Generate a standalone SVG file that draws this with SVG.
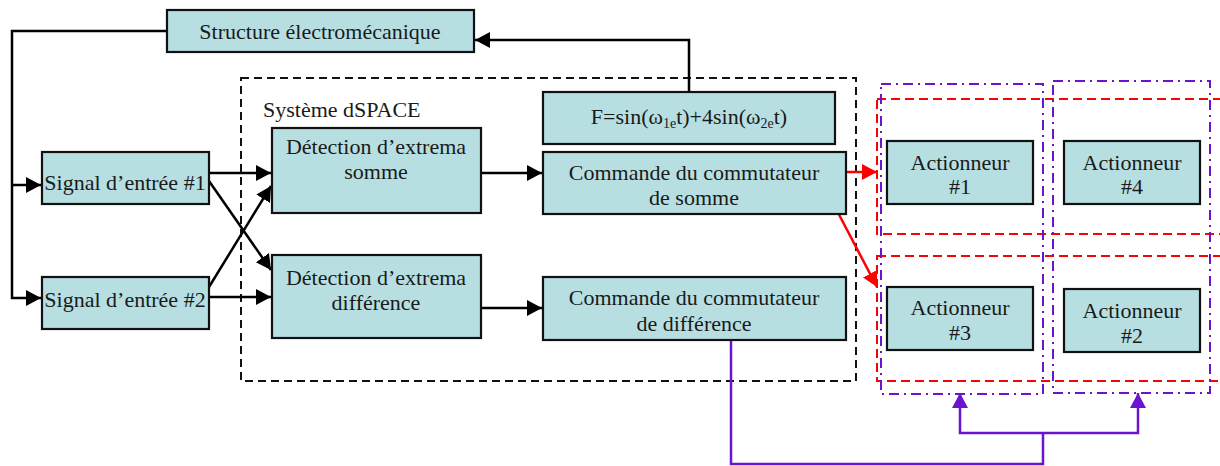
<svg xmlns="http://www.w3.org/2000/svg" width="1220" height="466" viewBox="0 0 1220 466">
  <defs>
    <style>
      .box { fill: #b7dfe2; stroke: #111; stroke-width: 2.2; }
      .lbl { font-family: "Liberation Serif", "Times New Roman", serif; font-size: 22px; fill: #1a1a1a; text-anchor: middle; }
      .lbl-left { font-family: "Liberation Serif", "Times New Roman", serif; font-size: 22px; fill: #1a1a1a; }
      .wire { fill: none; stroke: #000; stroke-width: 2.5; }
      .wire-red { fill: none; stroke: #f00; stroke-width: 2.5; }
      .wire-purple { fill: none; stroke: #6a14d2; stroke-width: 2.5; }
      .frame-black { fill: none; stroke: #111; stroke-width: 2; stroke-dasharray: 8 5; }
      .frame-red { fill: none; stroke: #f00; stroke-width: 2; stroke-dasharray: 9 5; }
      .frame-purple { fill: none; stroke: #6a14d2; stroke-width: 2; stroke-dasharray: 10 5 2 5; }
    </style>
    <marker id="arrow-black" markerUnits="userSpaceOnUse" markerWidth="17" markerHeight="17" refX="15" refY="8" orient="auto">
      <path d="M0,0 L15,8 L0,16 Z" fill="#000"/>
    </marker>
    <marker id="arrow-red" markerUnits="userSpaceOnUse" markerWidth="17" markerHeight="17" refX="15" refY="8" orient="auto">
      <path d="M0,0 L15,8 L0,16 Z" fill="#f00"/>
    </marker>
    <marker id="arrow-purple" markerUnits="userSpaceOnUse" markerWidth="17" markerHeight="17" refX="15" refY="8" orient="auto">
      <path d="M0,0 L15,8 L0,16 Z" fill="#6a14d2"/>
    </marker>
  </defs>

  <rect width="1220" height="466" fill="#fff"/>

  <!-- grouping frames -->
  <g id="frames">
    <rect class="frame-black" x="241" y="78" width="615" height="303"/>
    <text class="lbl-left" x="263" y="117">Système dSPACE</text>
    <rect class="frame-red" x="877" y="99" width="360" height="135"/>
    <rect class="frame-red" x="877" y="256" width="360" height="125"/>
    <rect class="frame-purple" x="881" y="84" width="162" height="310"/>
    <rect class="frame-purple" x="1053" y="81" width="157" height="312"/>
  </g>

  <!-- connectors -->
  <g id="connectors">
    <polyline class="wire" points="167,31 12,31 12,298 41,298" marker-end="url(#arrow-black)"/>
    <polyline class="wire" points="12,185 41,185" marker-end="url(#arrow-black)"/>
    <polyline class="wire" points="689,92 689,40 475,40" marker-end="url(#arrow-black)"/>
    <line class="wire" x1="209" y1="173" x2="271" y2="173" marker-end="url(#arrow-black)"/>
    <line class="wire" x1="209" y1="297" x2="271" y2="297" marker-end="url(#arrow-black)"/>
    <line class="wire" x1="209" y1="181" x2="271" y2="270" marker-end="url(#arrow-black)"/>
    <line class="wire" x1="209" y1="287" x2="271" y2="186" marker-end="url(#arrow-black)"/>
    <line class="wire" x1="481" y1="173" x2="542" y2="173" marker-end="url(#arrow-black)"/>
    <line class="wire" x1="481" y1="308" x2="542" y2="308" marker-end="url(#arrow-black)"/>
    <line class="wire-red" x1="846" y1="172" x2="877" y2="172" marker-end="url(#arrow-red)"/>
    <line class="wire-red" x1="834" y1="205" x2="877" y2="287" marker-end="url(#arrow-red)"/>
    <polyline class="wire-purple" points="731,340 731,464 1043,464 1043,433"/>
    <polyline class="wire-purple" points="1043,433 960,433 960,393" marker-end="url(#arrow-purple)"/>
    <polyline class="wire-purple" points="1043,433 1138,433 1138,393" marker-end="url(#arrow-purple)"/>
  </g>

  <g id="structure">
    <rect class="box" x="167" y="10" width="307" height="42"/>
    <text class="lbl" x="320" y="39">Structure électromécanique</text>
  </g>

  <g id="signal1">
    <rect class="box" x="42" y="152" width="167" height="52"/>
    <text class="lbl" x="125" y="190">Signal d’entrée #1</text>
  </g>

  <g id="signal2">
    <rect class="box" x="42" y="277" width="167" height="52"/>
    <text class="lbl" x="125" y="307">Signal d’entrée #2</text>
  </g>

  <g id="detect-sum">
    <rect class="box" x="272" y="128" width="209" height="85"/>
    <text class="lbl" x="376" y="154">Détection d’extrema</text>
    <text class="lbl" x="376" y="179">somme</text>
  </g>

  <g id="detect-diff">
    <rect class="box" x="272" y="255" width="209" height="83"/>
    <text class="lbl" x="376" y="285">Détection d’extrema</text>
    <text class="lbl" x="376" y="310">différence</text>
  </g>

  <g id="force">
    <rect class="box" x="543" y="92" width="292" height="52"/>
    <text class="lbl" x="689" y="124">F=sin(ω<tspan font-size="14" dy="4">1e</tspan><tspan dy="-4">t)+4sin(ω</tspan><tspan font-size="14" dy="4">2e</tspan><tspan dy="-4">t)</tspan></text>
  </g>

  <g id="cmd-sum">
    <rect class="box" x="543" y="152" width="303" height="62"/>
    <text class="lbl" x="694" y="180">Commande du commutateur</text>
    <text class="lbl" x="694" y="205">de somme</text>
  </g>

  <g id="cmd-diff">
    <rect class="box" x="543" y="277" width="303" height="63"/>
    <text class="lbl" x="694" y="305">Commande du commutateur</text>
    <text class="lbl" x="694" y="331">de différence</text>
  </g>

  <g id="act1">
    <rect class="box" x="887" y="141" width="146" height="63"/>
    <text class="lbl" x="960" y="170">Actionneur</text>
    <text class="lbl" x="960" y="194">#1</text>
  </g>

  <g id="act4">
    <rect class="box" x="1064" y="141" width="136" height="63"/>
    <text class="lbl" x="1132" y="170">Actionneur</text>
    <text class="lbl" x="1132" y="194">#4</text>
  </g>

  <g id="act3">
    <rect class="box" x="887" y="287" width="146" height="63"/>
    <text class="lbl" x="960" y="315">Actionneur</text>
    <text class="lbl" x="960" y="340">#3</text>
  </g>

  <g id="act2">
    <rect class="box" x="1064" y="289" width="136" height="63"/>
    <text class="lbl" x="1132" y="318">Actionneur</text>
    <text class="lbl" x="1132" y="343">#2</text>
  </g>
</svg>
